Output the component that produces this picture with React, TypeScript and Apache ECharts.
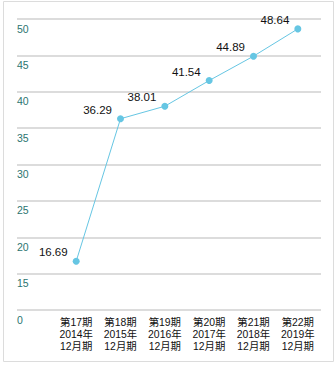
import React, { useEffect, useRef } from "react";
import * as echarts from "echarts";

const periods = ["第17期", "第18期", "第19期", "第20期", "第21期", "第22期"];
const years = ["2014年", "2015年", "2016年", "2017年", "2018年", "2019年"];
const months = ["12月期", "12月期", "12月期", "12月期", "12月期", "12月期"];
const values = [16.69, 36.29, 38.01, 41.54, 44.89, 48.64];
// axis value 10 stands for the broken-axis "0" tick
const yTickValues = [10, 15, 20, 25, 30, 35, 40, 45, 50];
const yTickLabels = ["0", "15", "20", "25", "30", "35", "40", "45", "50"];

const categories = periods.map((p, i) => `${p}\n${years[i]}\n${months[i]}`);

export default function App() {
  const ref = useRef<HTMLDivElement>(null);
  useEffect(() => {
    document.body.style.margin = "0";
    const chart = echarts.init(ref.current!, null, { renderer: "svg" });
    const labelMap: Record<number, string> = {};
    yTickValues.forEach((v, i) => (labelMap[v] = yTickLabels[i]));
    chart.setOption({
      animation: false,
      graphic: [
        {
          type: "rect",
          shape: { x: 3.5, y: 1.5, width: 330, height: 360 },
          style: { fill: "none", stroke: "#dcdcdc", lineWidth: 1 },
          silent: true,
        },
      ],
      grid: [
        { left: 17, right: 15, top: 19, bottom: 55 },
        { left: 54, right: 16, top: 19, bottom: 55 },
      ],
      xAxis: [
        { gridIndex: 0, type: "value", show: false },
        {
          gridIndex: 1,
          type: "category",
          data: categories,
          boundaryGap: true,
          axisLine: { show: false },
          axisTick: { show: false },
          axisLabel: {
            color: "#111",
            fontSize: 10.4,
            lineHeight: 12.2,
            fontFamily: "'Liberation Sans', 'Noto Sans CJK JP', sans-serif",
            margin: 6,
            interval: 0,
          },
        },
      ],
      yAxis: [
        {
          gridIndex: 0,
          type: "value",
          min: 10,
          max: 50,
          interval: 5,
          axisLine: { show: false },
          axisTick: { show: false },
          splitLine: { lineStyle: { color: "#d0d0d0", width: 1.5 } },
          axisLabel: {
            inside: true,
            verticalAlign: "top",
            align: "left",
            padding: [4, 0, 0, 0],
            margin: 0,
            color: "#2b7570",
            fontSize: 10.5,
            fontFamily: "'Liberation Sans', sans-serif",
            formatter: (v: number) => labelMap[v] ?? "",
          },
        },
        {
          gridIndex: 1,
          type: "value",
          min: 10,
          max: 50,
          interval: 5,
          show: false,
          splitLine: { show: false },
        },
      ],
      series: [
        {
          type: "line",
          xAxisIndex: 1,
          yAxisIndex: 1,
          data: values,
          symbol: "circle",
          symbolSize: 7,
          lineStyle: { color: "#66c6e3", width: 1 },
          itemStyle: { color: "#66c6e3" },
          label: {
            show: true,
            position: "left",
            distance: 5,
            offset: [0, -9],
            color: "#111",
            fontSize: 11.5,
            fontFamily: "'Liberation Sans', sans-serif",
            formatter: (p: any) => p.value.toFixed(2),
          },
        },
      ],
    });
    return () => chart.dispose();
  }, []);
  return <div ref={ref} style={{ width: 336, height: 365 }} />;
}
